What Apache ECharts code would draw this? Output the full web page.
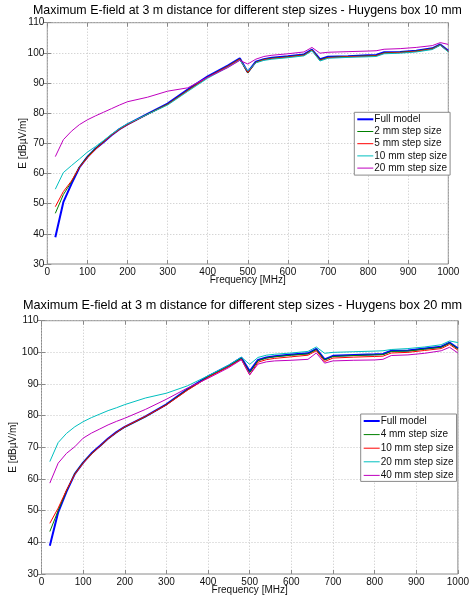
<!DOCTYPE html>
<html>
<head>
<meta charset="utf-8">
<script src="https://cdn.jsdelivr.net/npm/echarts@6/dist/echarts.min.js"></script>
<style>
html,body{margin:0;padding:0;background:#fff;}
#chart{width:472px;height:604px;}
</style>
</head>
<body>
<div id="chart"></div>
<script>
// Frequencies [MHz]
const freq = [20,40,60,80,100,120,140,160,180,200,250,300,350,400,450,480,500,520,540,560,600,640,660,680,700,750,800,820,840,880,920,960,980,1000];

// Top chart: Huygens box 10 mm
const topNames = ['Full model','2 mm step size','5 mm step size','10 mm step size','20 mm step size'];
const topFull = [38.9,50.5,56.5,62.0,65.5,68.2,70.4,72.7,74.7,76.3,79.8,83.2,87.8,92.2,95.8,98.2,93.6,97.1,97.9,98.4,98.9,99.5,101.1,97.9,98.7,98.9,99.2,99.3,100.2,100.3,100.7,101.5,102.8,100.7];
const top2mm = [46.8,53.0,57.2,62.2,65.6,68.3,70.5,72.8,74.7,76.3,79.7,83.0,87.6,92.0,95.6,98.0,93.3,96.9,97.8,98.2,98.7,99.3,101.0,97.7,98.5,98.8,99.0,99.1,100.0,100.2,100.6,101.4,102.7,100.5];
const top5mm = [49.0,54.0,57.5,62.0,65.2,68.0,70.4,72.7,74.6,76.2,79.6,82.9,87.5,91.9,95.5,97.9,93.5,96.8,97.7,98.1,98.6,99.2,100.9,97.5,98.4,98.7,98.9,99.0,99.9,100.1,100.5,101.3,102.6,100.5];
const top10mm = [54.8,60.3,62.6,64.8,67.1,68.9,70.9,73.0,74.9,76.5,79.6,82.7,87.2,91.6,95.2,97.6,94.0,96.7,97.5,97.9,98.4,99.0,100.7,97.3,98.2,98.5,98.7,98.8,99.7,99.9,100.3,101.1,102.5,100.3];
const top20mm = [65.6,71.2,74.0,76.2,77.8,79.1,80.3,81.5,82.7,83.8,85.3,87.3,88.4,91.9,95.1,97.5,96.3,97.9,98.8,99.2,99.7,100.3,101.8,99.9,100.2,100.4,100.6,100.7,101.2,101.4,101.8,102.4,103.4,102.8];

// Bottom chart: Huygens box 20 mm
const botNames = ['Full model','4 mm step size','10 mm step size','20 mm step size','40 mm step size'];
const botFull = [38.9,49.5,56.0,61.6,65.2,68.1,70.4,72.8,74.8,76.5,79.8,83.6,88.3,92.4,95.8,98.3,94.0,97.6,98.4,98.8,99.3,99.7,101.1,97.8,98.9,99.2,99.4,99.5,100.5,100.6,101.2,101.8,103.1,101.3];
const bot4mm = [43.4,50.0,56.3,61.7,65.2,68.0,70.3,72.7,74.7,76.4,79.7,83.5,88.2,92.3,95.7,98.1,93.6,97.4,98.2,98.6,99.1,99.5,100.9,97.6,98.7,99.0,99.2,99.3,100.3,100.4,101.0,101.6,102.9,101.1];
const bot10mm = [46.0,50.8,56.5,61.5,65.0,67.9,70.3,72.7,74.7,76.5,79.8,83.4,88.0,92.1,95.5,97.8,92.9,96.9,97.7,98.1,98.6,99.1,100.5,97.1,98.2,98.5,98.7,98.8,99.8,100.0,100.6,101.2,102.5,100.7];
const bot20mm = [65.5,71.5,74.4,76.5,78.1,79.4,80.5,81.6,82.5,83.5,85.6,87.1,89.4,92.6,96.0,98.5,96.2,98.4,99.1,99.4,99.8,100.3,101.7,99.7,100.0,100.2,100.4,100.5,100.9,101.2,101.7,102.4,103.6,103.1];
const bot40mm = [58.7,65.0,68.1,70.2,72.9,74.5,75.8,77.1,78.2,79.2,82.0,85.2,88.7,91.8,95.2,97.7,92.9,96.3,97.0,97.3,97.5,97.8,99.8,96.6,97.3,97.5,97.6,97.8,99.0,99.2,99.7,100.5,101.6,99.8];

const colors = ['#0000ff','#008000','#ff0000','#00bfbf','#bf00bf'];
const widths = [2,1,1,1,1];
const FONT = 'Liberation Sans';
const frame = '#8a8a8a';

function pairs(arr){ return freq.map((f,i)=>[f, arr[i]]); }

function mkSeries(names, arrs, xi, yi){
  return names.map((n,k)=>({
    name: n, type:'line', xAxisIndex: xi, yAxisIndex: yi,
    data: pairs(arrs[k]), symbol:'none', showSymbol:false,
    lineStyle:{color:colors[k], width:widths[k]}, itemStyle:{color:colors[k]},
    emphasis:{disabled:true}, z: 3 + k, animation:false
  }));
}

function xAx(grid, pos, main){
  return {
    type:'value', gridIndex:grid, position:pos, min:0, max:1000, interval:100,
    axisLine:{show:false},
    axisTick:{show:true, inside:true, length:4, lineStyle:{color:frame}},
    axisLabel:{show:main, margin:3, fontSize:10, color:'#111', fontFamily:FONT, formatter:v=>String(v)},
    splitLine:{show:main, lineStyle:{type:[1,2], color:'#c4c4c4', width:1}},
    name: main ? 'Frequency [MHz]' : '', nameLocation:'middle', nameGap:11.5, nameMoveOverlap:false,
    nameTextStyle:{fontSize:10, color:'#111', fontFamily:FONT}
  };
}
function yAx(grid, pos, main, gap){
  return {
    type:'value', gridIndex:grid, position:pos, min:30, max:110, interval:10,
    axisLine:{show:false},
    axisTick:{show:true, inside:true, length:4, lineStyle:{color:frame}},
    axisLabel:{show:main, margin:3, fontSize:10, color:'#111', fontFamily:FONT},
    splitLine:{show:main, lineStyle:{type:[1,2], color:'#c4c4c4', width:1}},
    name: main ? 'E [dBµV/m]' : '', nameLocation:'middle', nameGap:gap, nameRotate:90, nameMoveOverlap:false,
    nameTextStyle:{fontSize:10, color:'#111', fontFamily:FONT}
  };
}

function legendData(names){
  return names.map((n,k)=>({name:n, lineStyle:{width:widths[k], color:colors[k]}}));
}

const legendBase = {
  orient:'vertical', itemWidth:16, itemHeight:10, backgroundColor:'#fff', borderColor:frame, borderWidth:1,
  selectedMode:false, itemStyle:{opacity:0, borderWidth:0},
  textStyle:{fontSize:10, color:'#111', fontFamily:FONT, padding:[0,0,0,-4]}
};

const chart = echarts.init(document.getElementById('chart'), null, {renderer:'canvas'});
chart.setOption({
  animation:false,
  backgroundColor:'#fff',
  title:[
    {text:'Maximum E-field at 3 m distance for different step sizes - Huygens box 10 mm', left:33, top:4.8, padding:0,
     textStyle:{fontSize:12.4, fontWeight:'normal', color:'#000', fontFamily:FONT}},
    {text:'Maximum E-field at 3 m distance for different step sizes - Huygens box 20 mm', left:23, top:299, padding:0,
     textStyle:{fontSize:12.7, fontWeight:'normal', color:'#000', fontFamily:FONT}}
  ],
  grid:[
    {left:47.3, top:22.7, width:401, height:241.3, show:true, borderColor:frame, borderWidth:1, backgroundColor:'#fff'},
    {left:36.7, top:320.7, width:423, height:253.3, show:true, borderColor:frame, borderWidth:1, backgroundColor:'#fff'}
  ],
  xAxis:[xAx(0,'bottom',true), xAx(0,'top',false), xAx(1,'bottom',true), xAx(1,'top',false)],
  yAxis:[yAx(0,'left',true,19), yAx(0,'right',false,0), yAx(1,'left',true,23.5), yAx(1,'right',false,0)],
  legend:[
    Object.assign({}, legendBase, {data:legendData(topNames), left:354.3, top:112.3, padding:[2,3,2,2], itemGap:2.2}),
    Object.assign({}, legendBase, {data:legendData(botNames), left:360.7, top:414, padding:[2,3,1,2], itemGap:3.6})
  ],
  series: [].concat(
    mkSeries(topNames, [topFull, top2mm, top5mm, top10mm, top20mm], 0, 0),
    mkSeries(botNames, [botFull, bot4mm, bot10mm, bot20mm, bot40mm], 2, 2)
  )
});
</script>
</body>
</html>
